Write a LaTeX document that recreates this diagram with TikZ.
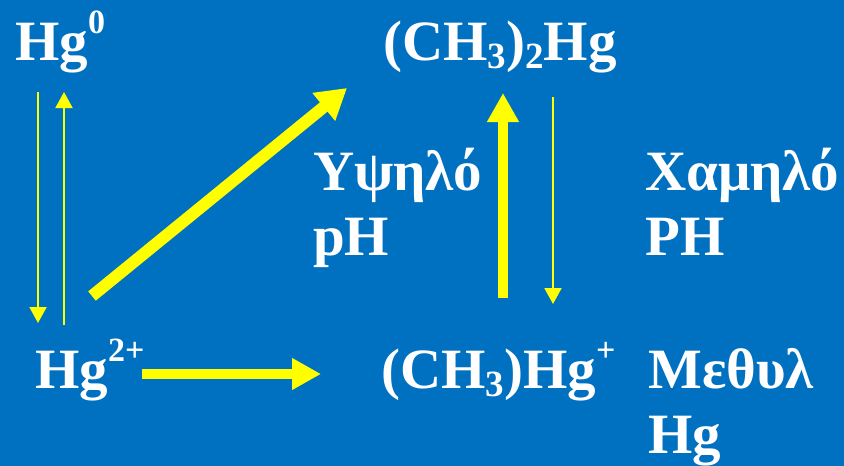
\documentclass[tikz,border=0pt]{standalone}
\usepackage{fontspec}
\setmainfont{Liberation Serif}
\usetikzlibrary{arrows.meta}

\definecolor{slideblue}{RGB}{0,112,192}
\definecolor{arrowyellow}{RGB}{255,255,0}

\newcommand{\upidx}[1]{\raisebox{27pt}{\fontsize{34}{34}\selectfont #1}}
\newcommand{\downidx}[1]{\raisebox{-8pt}{\fontsize{37}{37}\selectfont #1}}

\begin{document}
\begin{tikzpicture}[x=1pt, y=-1pt,
    chem/.style={text=white, font=\fontsize{57}{62}\selectfont\bfseries, inner sep=0pt, anchor=base west},
    thin arrow/.style={draw=arrowyellow, line width=2pt, -{Triangle[width=17pt,length=16pt]}},
    fat arrow/.style={draw=arrowyellow, line width=10pt, -{Triangle[width=30pt,length=29pt]}}]

        % --- 1. Background ---
        \fill[slideblue] (0,0) rectangle (844,466);
        \useasboundingbox (0,0) rectangle (844,466);

        % --- 2. Species ---
        \node[chem] (hgzero)   at (15,60)   {Hg\upidx{0}};
        \node[chem] (dimethyl) at (383,60)  {(CH\downidx{3})\downidx{2}Hg};
        \node[chem] (hgtwo)    at (35,388)  {Hg\upidx{2+}};
        \node[chem] (methyl)   at (381,388) {(CH\downidx{3})Hg\upidx{+}};

        % --- 3. Side labels ---
        \node[chem] (highA) at (313,190) {Υψηλό};
        \node[chem] (highB) at (313,255) {pH};
        \node[chem] (lowA)  at (645,190) {Χαμηλό};
        \node[chem] (lowB)  at (645,255) {PH};
        \node[chem] (methA) at (648,388) {Μεθυλ};
        \node[chem] (methB) at (648,453) {Hg};

        % --- 4. Arrow ends ---
        \coordinate (redTop)    at (38,92);
        \coordinate (redBot)    at (38,323);
        \coordinate (oxBot)     at (64,325);
        \coordinate (oxTop)     at (64,92);
        \coordinate (diagFrom)  at (92,296);
        \coordinate (diagTo)    at (347,88);
        \coordinate (horFrom)   at (142,374);
        \coordinate (horTo)     at (321,374);
        \coordinate (highFrom)  at (503,298);
        \coordinate (highTo)    at (503,93);
        \coordinate (lowFrom)   at (553,97);
        \coordinate (lowTo)     at (553,304);

        % --- 5. Arrows ---
        \draw[thin arrow] (redTop) -- (redBot);
        \draw[thin arrow] (oxBot) -- (oxTop);
        \draw[fat arrow, line width=12pt, -{Triangle[width=34pt,length=30pt]}] (diagFrom) -- (diagTo);
        \draw[fat arrow] (horFrom) -- (horTo);
        \draw[fat arrow] (highFrom) -- (highTo);
        \draw[thin arrow] (lowFrom) -- (lowTo);
\end{tikzpicture}
\end{document}
